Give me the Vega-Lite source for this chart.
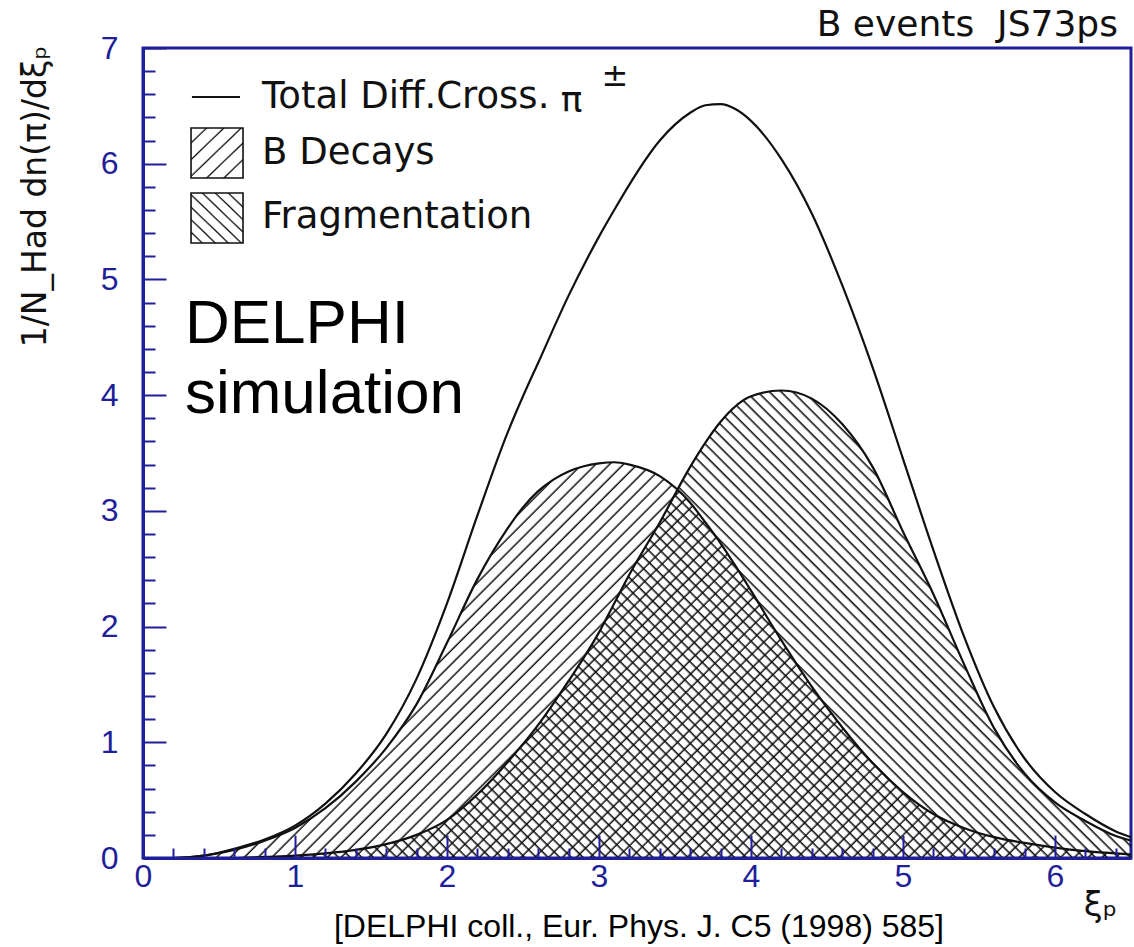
{
"$schema":"https://vega.github.io/schema/vega-lite/v6.json",
"width":988,"height":810,
"autosize":{"type":"none"},
"padding":{"left":143,"top":48,"right":3,"bottom":89},
"background":"white",
"config":{"view":{"stroke":"#1f1f99","strokeWidth":3},"axis":{"grid":false,"labelFlush":false,"labelOverlap":false,"labelBound":false}},
"datasets":{
"curves":[
{"xi":0,"s":"total","yv":0},{"xi":0.2,"s":"total","yv":0},{"xi":0.4,"s":"total","yv":0.02},{"xi":0.6,"s":"total","yv":0.08},{"xi":0.8,"s":"total","yv":0.16},{"xi":1,"s":"total","yv":0.28},{"xi":1.2,"s":"total","yv":0.47},{"xi":1.4,"s":"total","yv":0.73},{"xi":1.6,"s":"total","yv":1.07},{"xi":1.8,"s":"total","yv":1.55},{"xi":2,"s":"total","yv":2.2},{"xi":2.2,"s":"total","yv":2.96},{"xi":2.4,"s":"total","yv":3.68},{"xi":2.5,"s":"total","yv":3.99},{"xi":2.6,"s":"total","yv":4.28},{"xi":2.8,"s":"total","yv":4.86},{"xi":3,"s":"total","yv":5.37},{"xi":3.1,"s":"total","yv":5.6},{"xi":3.2,"s":"total","yv":5.82},{"xi":3.4,"s":"total","yv":6.2},{"xi":3.6,"s":"total","yv":6.44},{"xi":3.7,"s":"total","yv":6.505},{"xi":3.8,"s":"total","yv":6.515},{"xi":3.9,"s":"total","yv":6.47},{"xi":4,"s":"total","yv":6.37},{"xi":4.2,"s":"total","yv":6.04},{"xi":4.4,"s":"total","yv":5.57},{"xi":4.6,"s":"total","yv":4.95},{"xi":4.8,"s":"total","yv":4.24},{"xi":5,"s":"total","yv":3.45},{"xi":5.2,"s":"total","yv":2.66},{"xi":5.4,"s":"total","yv":1.92},{"xi":5.6,"s":"total","yv":1.3},{"xi":5.8,"s":"total","yv":0.86},{"xi":6,"s":"total","yv":0.57},{"xi":6.2,"s":"total","yv":0.38},{"xi":6.4,"s":"total","yv":0.23},{"xi":6.5,"s":"total","yv":0.18},
{"xi":0,"s":"b","yv":0},{"xi":0.2,"s":"b","yv":0},{"xi":0.4,"s":"b","yv":0.02},{"xi":0.6,"s":"b","yv":0.07},{"xi":0.8,"s":"b","yv":0.15},{"xi":1,"s":"b","yv":0.26},{"xi":1.2,"s":"b","yv":0.43},{"xi":1.4,"s":"b","yv":0.66},{"xi":1.6,"s":"b","yv":0.95},{"xi":1.8,"s":"b","yv":1.33},{"xi":2,"s":"b","yv":1.86},{"xi":2.2,"s":"b","yv":2.41},{"xi":2.4,"s":"b","yv":2.85},{"xi":2.5,"s":"b","yv":3.03},{"xi":2.6,"s":"b","yv":3.17},{"xi":2.7,"s":"b","yv":3.27},{"xi":2.8,"s":"b","yv":3.34},{"xi":2.9,"s":"b","yv":3.385},{"xi":3,"s":"b","yv":3.41},{"xi":3.1,"s":"b","yv":3.42},{"xi":3.2,"s":"b","yv":3.4},{"xi":3.4,"s":"b","yv":3.3},{"xi":3.6,"s":"b","yv":3.07},{"xi":3.7,"s":"b","yv":2.9},{"xi":3.8,"s":"b","yv":2.72},{"xi":3.9,"s":"b","yv":2.52},{"xi":4,"s":"b","yv":2.31},{"xi":4.2,"s":"b","yv":1.88},{"xi":4.4,"s":"b","yv":1.48},{"xi":4.6,"s":"b","yv":1.13},{"xi":4.8,"s":"b","yv":0.82},{"xi":5,"s":"b","yv":0.57},{"xi":5.2,"s":"b","yv":0.38},{"xi":5.4,"s":"b","yv":0.26},{"xi":5.6,"s":"b","yv":0.18},{"xi":5.8,"s":"b","yv":0.13},{"xi":6,"s":"b","yv":0.09},{"xi":6.2,"s":"b","yv":0.06},{"xi":6.4,"s":"b","yv":0.04},{"xi":6.5,"s":"b","yv":0.03},
{"xi":0,"s":"frag","yv":0},{"xi":0.2,"s":"frag","yv":0},{"xi":0.4,"s":"frag","yv":0},{"xi":0.6,"s":"frag","yv":0},{"xi":0.8,"s":"frag","yv":0.01},{"xi":1,"s":"frag","yv":0.02},{"xi":1.2,"s":"frag","yv":0.04},{"xi":1.4,"s":"frag","yv":0.07},{"xi":1.6,"s":"frag","yv":0.12},{"xi":1.8,"s":"frag","yv":0.2},{"xi":2,"s":"frag","yv":0.33},{"xi":2.2,"s":"frag","yv":0.55},{"xi":2.4,"s":"frag","yv":0.83},{"xi":2.6,"s":"frag","yv":1.15},{"xi":2.8,"s":"frag","yv":1.53},{"xi":3,"s":"frag","yv":1.95},{"xi":3.1,"s":"frag","yv":2.2},{"xi":3.2,"s":"frag","yv":2.45},{"xi":3.4,"s":"frag","yv":2.9},{"xi":3.6,"s":"frag","yv":3.38},{"xi":3.7,"s":"frag","yv":3.59},{"xi":3.8,"s":"frag","yv":3.77},{"xi":4,"s":"frag","yv":3.99},{"xi":4.2,"s":"frag","yv":4.04},{"xi":4.4,"s":"frag","yv":3.97},{"xi":4.6,"s":"frag","yv":3.75},{"xi":4.8,"s":"frag","yv":3.38},{"xi":5,"s":"frag","yv":2.82},{"xi":5.2,"s":"frag","yv":2.28},{"xi":5.4,"s":"frag","yv":1.68},{"xi":5.6,"s":"frag","yv":1.12},{"xi":5.8,"s":"frag","yv":0.73},{"xi":6,"s":"frag","yv":0.48},{"xi":6.2,"s":"frag","yv":0.32},{"xi":6.4,"s":"frag","yv":0.19},{"xi":6.5,"s":"frag","yv":0.15}
]
},
"encoding":{
"x":{"field":"xi","type":"quantitative","scale":{"domain":[0,6.5],"nice":false,"zero":false},
"axis":{"values":[0,0.2,0.4,0.6,0.8,1,1.2,1.4,1.6,1.8,2,2.2,2.4,2.6,2.8,3,3.2,3.4,3.6,3.8,4,4.2,4.4,4.6,4.8,5,5.2,5.4,5.6,5.8,6,6.2,6.4],
"labelExpr":"abs(datum.value-round(datum.value))<0.01 ? format(datum.value,'d') : ''",
"tickSize":-23,
"tickDash":{"condition":{"test":"abs(datum.value-round(datum.value))<0.01","value":[40,0]},"value":[10,100]},
"tickColor":"#1f1f99","tickWidth":2,"domainColor":"#1f1f99","domainWidth":3,"zindex":1,
"labelColor":"#1f1f99","labelFont":"Liberation Sans","labelFontSize":32,"labelPadding":26,"labelBaseline":"top",
"title":"ξₚ","titleX":957,"titleY":47,"titleFont":"DejaVu Sans","titleFontSize":34,"titleFontWeight":"normal","titleColor":"#111","titleAlign":"center","titleBaseline":"middle"}},
"y":{"field":"yv","type":"quantitative","scale":{"domain":[0,7],"nice":false,"zero":false},
"axis":{"values":[0,0.2,0.4,0.6,0.8,1,1.2,1.4,1.6,1.8,2,2.2,2.4,2.6,2.8,3,3.2,3.4,3.6,3.8,4,4.2,4.4,4.6,4.8,5,5.2,5.4,5.6,5.8,6,6.2,6.4,6.6,6.8,7],
"labelExpr":"abs(datum.value-round(datum.value))<0.01 ? format(datum.value,'d') : ''",
"tickSize":-23,
"tickDash":{"condition":{"test":"abs(datum.value-round(datum.value))<0.01","value":[40,0]},"value":[12,100]},
"tickColor":"#1f1f99","tickWidth":2,"domainColor":"#1f1f99","domainWidth":3,"zindex":1,
"labelColor":"#1f1f99","labelFont":"Liberation Sans","labelFontSize":32,"labelPadding":48,"labelAlign":"right","labelBaseline":"middle",
"title":"1/N_Had dn(π)/dξₚ","titleAngle":270,"titleX":-108,"titleY":-3,"titleAlign":"right","titleBaseline":"middle","titleFont":"DejaVu Sans","titleFontSize":33,"titleFontWeight":"normal","titleColor":"#111"}}
},
"layer":[
{"data":{"name":"curves"},"transform":[{"filter":"datum.s==='b'"}],
"mark":{"type":"area","interpolate":"monotone","opacity":1,"strokeWidth":0,
"fill":{"gradient":"linear","x1":0,"y1":0,"x2":1.2069,"y2":0.4834,"stops":[
{"offset":0.007,"color":"transparent"},{"offset":0.009,"color":"#111"},{"offset":0.01,"color":"transparent"},
{"offset":0.017,"color":"transparent"},{"offset":0.019,"color":"#111"},{"offset":0.02,"color":"transparent"},
{"offset":0.027,"color":"transparent"},{"offset":0.029,"color":"#111"},{"offset":0.03,"color":"transparent"},
{"offset":0.037,"color":"transparent"},{"offset":0.039,"color":"#111"},{"offset":0.04,"color":"transparent"},
{"offset":0.047,"color":"transparent"},{"offset":0.049,"color":"#111"},{"offset":0.05,"color":"transparent"},
{"offset":0.057,"color":"transparent"},{"offset":0.059,"color":"#111"},{"offset":0.06,"color":"transparent"},
{"offset":0.067,"color":"transparent"},{"offset":0.069,"color":"#111"},{"offset":0.07,"color":"transparent"},
{"offset":0.077,"color":"transparent"},{"offset":0.079,"color":"#111"},{"offset":0.08,"color":"transparent"},
{"offset":0.087,"color":"transparent"},{"offset":0.089,"color":"#111"},{"offset":0.09,"color":"transparent"},
{"offset":0.097,"color":"transparent"},{"offset":0.099,"color":"#111"},{"offset":0.1,"color":"transparent"},
{"offset":0.107,"color":"transparent"},{"offset":0.109,"color":"#111"},{"offset":0.11,"color":"transparent"},
{"offset":0.117,"color":"transparent"},{"offset":0.119,"color":"#111"},{"offset":0.12,"color":"transparent"},
{"offset":0.127,"color":"transparent"},{"offset":0.129,"color":"#111"},{"offset":0.13,"color":"transparent"},
{"offset":0.137,"color":"transparent"},{"offset":0.139,"color":"#111"},{"offset":0.14,"color":"transparent"},
{"offset":0.147,"color":"transparent"},{"offset":0.149,"color":"#111"},{"offset":0.15,"color":"transparent"},
{"offset":0.157,"color":"transparent"},{"offset":0.159,"color":"#111"},{"offset":0.16,"color":"transparent"},
{"offset":0.167,"color":"transparent"},{"offset":0.169,"color":"#111"},{"offset":0.17,"color":"transparent"},
{"offset":0.177,"color":"transparent"},{"offset":0.179,"color":"#111"},{"offset":0.18,"color":"transparent"},
{"offset":0.187,"color":"transparent"},{"offset":0.189,"color":"#111"},{"offset":0.19,"color":"transparent"},
{"offset":0.197,"color":"transparent"},{"offset":0.199,"color":"#111"},{"offset":0.2,"color":"transparent"},
{"offset":0.207,"color":"transparent"},{"offset":0.209,"color":"#111"},{"offset":0.21,"color":"transparent"},
{"offset":0.217,"color":"transparent"},{"offset":0.219,"color":"#111"},{"offset":0.22,"color":"transparent"},
{"offset":0.227,"color":"transparent"},{"offset":0.229,"color":"#111"},{"offset":0.23,"color":"transparent"},
{"offset":0.237,"color":"transparent"},{"offset":0.239,"color":"#111"},{"offset":0.24,"color":"transparent"},
{"offset":0.247,"color":"transparent"},{"offset":0.249,"color":"#111"},{"offset":0.25,"color":"transparent"},
{"offset":0.257,"color":"transparent"},{"offset":0.259,"color":"#111"},{"offset":0.26,"color":"transparent"},
{"offset":0.267,"color":"transparent"},{"offset":0.269,"color":"#111"},{"offset":0.27,"color":"transparent"},
{"offset":0.277,"color":"transparent"},{"offset":0.279,"color":"#111"},{"offset":0.28,"color":"transparent"},
{"offset":0.287,"color":"transparent"},{"offset":0.289,"color":"#111"},{"offset":0.29,"color":"transparent"},
{"offset":0.297,"color":"transparent"},{"offset":0.299,"color":"#111"},{"offset":0.3,"color":"transparent"},
{"offset":0.307,"color":"transparent"},{"offset":0.309,"color":"#111"},{"offset":0.31,"color":"transparent"},
{"offset":0.317,"color":"transparent"},{"offset":0.319,"color":"#111"},{"offset":0.32,"color":"transparent"},
{"offset":0.327,"color":"transparent"},{"offset":0.329,"color":"#111"},{"offset":0.33,"color":"transparent"},
{"offset":0.337,"color":"transparent"},{"offset":0.339,"color":"#111"},{"offset":0.34,"color":"transparent"},
{"offset":0.347,"color":"transparent"},{"offset":0.349,"color":"#111"},{"offset":0.35,"color":"transparent"},
{"offset":0.357,"color":"transparent"},{"offset":0.359,"color":"#111"},{"offset":0.36,"color":"transparent"},
{"offset":0.367,"color":"transparent"},{"offset":0.369,"color":"#111"},{"offset":0.37,"color":"transparent"},
{"offset":0.377,"color":"transparent"},{"offset":0.379,"color":"#111"},{"offset":0.38,"color":"transparent"},
{"offset":0.387,"color":"transparent"},{"offset":0.389,"color":"#111"},{"offset":0.39,"color":"transparent"},
{"offset":0.397,"color":"transparent"},{"offset":0.399,"color":"#111"},{"offset":0.4,"color":"transparent"},
{"offset":0.407,"color":"transparent"},{"offset":0.409,"color":"#111"},{"offset":0.41,"color":"transparent"},
{"offset":0.417,"color":"transparent"},{"offset":0.419,"color":"#111"},{"offset":0.42,"color":"transparent"},
{"offset":0.427,"color":"transparent"},{"offset":0.429,"color":"#111"},{"offset":0.43,"color":"transparent"},
{"offset":0.437,"color":"transparent"},{"offset":0.439,"color":"#111"},{"offset":0.44,"color":"transparent"},
{"offset":0.447,"color":"transparent"},{"offset":0.449,"color":"#111"},{"offset":0.45,"color":"transparent"},
{"offset":0.457,"color":"transparent"},{"offset":0.459,"color":"#111"},{"offset":0.46,"color":"transparent"},
{"offset":0.467,"color":"transparent"},{"offset":0.469,"color":"#111"},{"offset":0.47,"color":"transparent"},
{"offset":0.477,"color":"transparent"},{"offset":0.479,"color":"#111"},{"offset":0.48,"color":"transparent"},
{"offset":0.487,"color":"transparent"},{"offset":0.489,"color":"#111"},{"offset":0.49,"color":"transparent"},
{"offset":0.497,"color":"transparent"},{"offset":0.499,"color":"#111"},{"offset":0.5,"color":"transparent"},
{"offset":0.507,"color":"transparent"},{"offset":0.509,"color":"#111"},{"offset":0.51,"color":"transparent"},
{"offset":0.517,"color":"transparent"},{"offset":0.519,"color":"#111"},{"offset":0.52,"color":"transparent"},
{"offset":0.527,"color":"transparent"},{"offset":0.529,"color":"#111"},{"offset":0.53,"color":"transparent"},
{"offset":0.537,"color":"transparent"},{"offset":0.539,"color":"#111"},{"offset":0.54,"color":"transparent"},
{"offset":0.547,"color":"transparent"},{"offset":0.549,"color":"#111"},{"offset":0.55,"color":"transparent"},
{"offset":0.557,"color":"transparent"},{"offset":0.559,"color":"#111"},{"offset":0.56,"color":"transparent"},
{"offset":0.567,"color":"transparent"},{"offset":0.569,"color":"#111"},{"offset":0.57,"color":"transparent"},
{"offset":0.577,"color":"transparent"},{"offset":0.579,"color":"#111"},{"offset":0.58,"color":"transparent"},
{"offset":0.587,"color":"transparent"},{"offset":0.589,"color":"#111"},{"offset":0.59,"color":"transparent"},
{"offset":0.597,"color":"transparent"},{"offset":0.599,"color":"#111"},{"offset":0.6,"color":"transparent"},
{"offset":0.607,"color":"transparent"},{"offset":0.609,"color":"#111"},{"offset":0.61,"color":"transparent"},
{"offset":0.617,"color":"transparent"},{"offset":0.619,"color":"#111"},{"offset":0.62,"color":"transparent"},
{"offset":0.627,"color":"transparent"},{"offset":0.629,"color":"#111"},{"offset":0.63,"color":"transparent"},
{"offset":0.637,"color":"transparent"},{"offset":0.639,"color":"#111"},{"offset":0.64,"color":"transparent"},
{"offset":0.647,"color":"transparent"},{"offset":0.649,"color":"#111"},{"offset":0.65,"color":"transparent"},
{"offset":0.657,"color":"transparent"},{"offset":0.659,"color":"#111"},{"offset":0.66,"color":"transparent"},
{"offset":0.667,"color":"transparent"},{"offset":0.669,"color":"#111"},{"offset":0.67,"color":"transparent"},
{"offset":0.677,"color":"transparent"},{"offset":0.679,"color":"#111"},{"offset":0.68,"color":"transparent"},
{"offset":0.687,"color":"transparent"},{"offset":0.689,"color":"#111"},{"offset":0.69,"color":"transparent"},
{"offset":0.697,"color":"transparent"},{"offset":0.699,"color":"#111"},{"offset":0.7,"color":"transparent"},
{"offset":0.707,"color":"transparent"},{"offset":0.709,"color":"#111"},{"offset":0.71,"color":"transparent"},
{"offset":0.717,"color":"transparent"},{"offset":0.719,"color":"#111"},{"offset":0.72,"color":"transparent"},
{"offset":0.727,"color":"transparent"},{"offset":0.729,"color":"#111"},{"offset":0.73,"color":"transparent"},
{"offset":0.737,"color":"transparent"},{"offset":0.739,"color":"#111"},{"offset":0.74,"color":"transparent"},
{"offset":0.747,"color":"transparent"},{"offset":0.749,"color":"#111"},{"offset":0.75,"color":"transparent"},
{"offset":0.757,"color":"transparent"},{"offset":0.759,"color":"#111"},{"offset":0.76,"color":"transparent"},
{"offset":0.767,"color":"transparent"},{"offset":0.769,"color":"#111"},{"offset":0.77,"color":"transparent"},
{"offset":0.777,"color":"transparent"},{"offset":0.779,"color":"#111"},{"offset":0.78,"color":"transparent"},
{"offset":0.787,"color":"transparent"},{"offset":0.789,"color":"#111"},{"offset":0.79,"color":"transparent"},
{"offset":0.797,"color":"transparent"},{"offset":0.799,"color":"#111"},{"offset":0.8,"color":"transparent"},
{"offset":0.807,"color":"transparent"},{"offset":0.809,"color":"#111"},{"offset":0.81,"color":"transparent"},
{"offset":0.817,"color":"transparent"},{"offset":0.819,"color":"#111"},{"offset":0.82,"color":"transparent"},
{"offset":0.827,"color":"transparent"},{"offset":0.829,"color":"#111"},{"offset":0.83,"color":"transparent"},
{"offset":0.837,"color":"transparent"},{"offset":0.839,"color":"#111"},{"offset":0.84,"color":"transparent"},
{"offset":0.847,"color":"transparent"},{"offset":0.849,"color":"#111"},{"offset":0.85,"color":"transparent"},
{"offset":0.857,"color":"transparent"},{"offset":0.859,"color":"#111"},{"offset":0.86,"color":"transparent"},
{"offset":0.867,"color":"transparent"},{"offset":0.869,"color":"#111"},{"offset":0.87,"color":"transparent"},
{"offset":0.877,"color":"transparent"},{"offset":0.879,"color":"#111"},{"offset":0.88,"color":"transparent"},
{"offset":0.887,"color":"transparent"},{"offset":0.889,"color":"#111"},{"offset":0.89,"color":"transparent"},
{"offset":0.897,"color":"transparent"},{"offset":0.899,"color":"#111"},{"offset":0.9,"color":"transparent"},
{"offset":0.907,"color":"transparent"},{"offset":0.909,"color":"#111"},{"offset":0.91,"color":"transparent"},
{"offset":0.917,"color":"transparent"},{"offset":0.919,"color":"#111"},{"offset":0.92,"color":"transparent"},
{"offset":0.927,"color":"transparent"},{"offset":0.929,"color":"#111"},{"offset":0.93,"color":"transparent"},
{"offset":0.937,"color":"transparent"},{"offset":0.939,"color":"#111"},{"offset":0.94,"color":"transparent"},
{"offset":0.947,"color":"transparent"},{"offset":0.949,"color":"#111"},{"offset":0.95,"color":"transparent"},
{"offset":0.957,"color":"transparent"},{"offset":0.959,"color":"#111"},{"offset":0.96,"color":"transparent"},
{"offset":0.967,"color":"transparent"},{"offset":0.969,"color":"#111"},{"offset":0.97,"color":"transparent"},
{"offset":0.977,"color":"transparent"},{"offset":0.979,"color":"#111"},{"offset":0.98,"color":"transparent"},
{"offset":0.987,"color":"transparent"},{"offset":0.989,"color":"#111"},{"offset":0.99,"color":"transparent"},
{"offset":0.997,"color":"transparent"},{"offset":0.999,"color":"#111"},{"offset":1,"color":"transparent"}
]}}},
{"data":{"name":"curves"},"transform":[{"filter":"datum.s==='frag'"}],
"mark":{"type":"area","interpolate":"monotone","opacity":1,"strokeWidth":0,
"fill":{"gradient":"linear","x1":0,"y1":1,"x2":1.2037,"y2":0.4305,"stops":[
{"offset":0.005,"color":"transparent"},{"offset":0.007,"color":"#111"},{"offset":0.008,"color":"transparent"},
{"offset":0.013,"color":"transparent"},{"offset":0.015,"color":"#111"},{"offset":0.016,"color":"transparent"},
{"offset":0.021,"color":"transparent"},{"offset":0.023,"color":"#111"},{"offset":0.024,"color":"transparent"},
{"offset":0.029,"color":"transparent"},{"offset":0.031,"color":"#111"},{"offset":0.032,"color":"transparent"},
{"offset":0.037,"color":"transparent"},{"offset":0.039,"color":"#111"},{"offset":0.040,"color":"transparent"},
{"offset":0.045,"color":"transparent"},{"offset":0.047,"color":"#111"},{"offset":0.048,"color":"transparent"},
{"offset":0.053,"color":"transparent"},{"offset":0.055,"color":"#111"},{"offset":0.056,"color":"transparent"},
{"offset":0.061,"color":"transparent"},{"offset":0.063,"color":"#111"},{"offset":0.064,"color":"transparent"},
{"offset":0.069,"color":"transparent"},{"offset":0.071,"color":"#111"},{"offset":0.072,"color":"transparent"},
{"offset":0.077,"color":"transparent"},{"offset":0.079,"color":"#111"},{"offset":0.080,"color":"transparent"},
{"offset":0.085,"color":"transparent"},{"offset":0.087,"color":"#111"},{"offset":0.088,"color":"transparent"},
{"offset":0.093,"color":"transparent"},{"offset":0.095,"color":"#111"},{"offset":0.096,"color":"transparent"},
{"offset":0.101,"color":"transparent"},{"offset":0.103,"color":"#111"},{"offset":0.104,"color":"transparent"},
{"offset":0.109,"color":"transparent"},{"offset":0.111,"color":"#111"},{"offset":0.112,"color":"transparent"},
{"offset":0.117,"color":"transparent"},{"offset":0.119,"color":"#111"},{"offset":0.120,"color":"transparent"},
{"offset":0.125,"color":"transparent"},{"offset":0.127,"color":"#111"},{"offset":0.128,"color":"transparent"},
{"offset":0.133,"color":"transparent"},{"offset":0.135,"color":"#111"},{"offset":0.136,"color":"transparent"},
{"offset":0.141,"color":"transparent"},{"offset":0.143,"color":"#111"},{"offset":0.144,"color":"transparent"},
{"offset":0.149,"color":"transparent"},{"offset":0.151,"color":"#111"},{"offset":0.152,"color":"transparent"},
{"offset":0.157,"color":"transparent"},{"offset":0.159,"color":"#111"},{"offset":0.160,"color":"transparent"},
{"offset":0.165,"color":"transparent"},{"offset":0.167,"color":"#111"},{"offset":0.168,"color":"transparent"},
{"offset":0.173,"color":"transparent"},{"offset":0.175,"color":"#111"},{"offset":0.176,"color":"transparent"},
{"offset":0.181,"color":"transparent"},{"offset":0.183,"color":"#111"},{"offset":0.184,"color":"transparent"},
{"offset":0.189,"color":"transparent"},{"offset":0.191,"color":"#111"},{"offset":0.192,"color":"transparent"},
{"offset":0.197,"color":"transparent"},{"offset":0.199,"color":"#111"},{"offset":0.200,"color":"transparent"},
{"offset":0.205,"color":"transparent"},{"offset":0.207,"color":"#111"},{"offset":0.208,"color":"transparent"},
{"offset":0.213,"color":"transparent"},{"offset":0.215,"color":"#111"},{"offset":0.216,"color":"transparent"},
{"offset":0.221,"color":"transparent"},{"offset":0.223,"color":"#111"},{"offset":0.224,"color":"transparent"},
{"offset":0.229,"color":"transparent"},{"offset":0.231,"color":"#111"},{"offset":0.232,"color":"transparent"},
{"offset":0.237,"color":"transparent"},{"offset":0.239,"color":"#111"},{"offset":0.240,"color":"transparent"},
{"offset":0.245,"color":"transparent"},{"offset":0.247,"color":"#111"},{"offset":0.248,"color":"transparent"},
{"offset":0.253,"color":"transparent"},{"offset":0.255,"color":"#111"},{"offset":0.256,"color":"transparent"},
{"offset":0.261,"color":"transparent"},{"offset":0.263,"color":"#111"},{"offset":0.264,"color":"transparent"},
{"offset":0.269,"color":"transparent"},{"offset":0.271,"color":"#111"},{"offset":0.272,"color":"transparent"},
{"offset":0.277,"color":"transparent"},{"offset":0.279,"color":"#111"},{"offset":0.280,"color":"transparent"},
{"offset":0.285,"color":"transparent"},{"offset":0.287,"color":"#111"},{"offset":0.288,"color":"transparent"},
{"offset":0.293,"color":"transparent"},{"offset":0.295,"color":"#111"},{"offset":0.296,"color":"transparent"},
{"offset":0.301,"color":"transparent"},{"offset":0.303,"color":"#111"},{"offset":0.304,"color":"transparent"},
{"offset":0.309,"color":"transparent"},{"offset":0.311,"color":"#111"},{"offset":0.312,"color":"transparent"},
{"offset":0.317,"color":"transparent"},{"offset":0.319,"color":"#111"},{"offset":0.320,"color":"transparent"},
{"offset":0.325,"color":"transparent"},{"offset":0.327,"color":"#111"},{"offset":0.328,"color":"transparent"},
{"offset":0.333,"color":"transparent"},{"offset":0.335,"color":"#111"},{"offset":0.336,"color":"transparent"},
{"offset":0.341,"color":"transparent"},{"offset":0.343,"color":"#111"},{"offset":0.344,"color":"transparent"},
{"offset":0.349,"color":"transparent"},{"offset":0.351,"color":"#111"},{"offset":0.352,"color":"transparent"},
{"offset":0.357,"color":"transparent"},{"offset":0.359,"color":"#111"},{"offset":0.360,"color":"transparent"},
{"offset":0.365,"color":"transparent"},{"offset":0.367,"color":"#111"},{"offset":0.368,"color":"transparent"},
{"offset":0.373,"color":"transparent"},{"offset":0.375,"color":"#111"},{"offset":0.376,"color":"transparent"},
{"offset":0.381,"color":"transparent"},{"offset":0.383,"color":"#111"},{"offset":0.384,"color":"transparent"},
{"offset":0.389,"color":"transparent"},{"offset":0.391,"color":"#111"},{"offset":0.392,"color":"transparent"},
{"offset":0.397,"color":"transparent"},{"offset":0.399,"color":"#111"},{"offset":0.400,"color":"transparent"},
{"offset":0.405,"color":"transparent"},{"offset":0.407,"color":"#111"},{"offset":0.408,"color":"transparent"},
{"offset":0.413,"color":"transparent"},{"offset":0.415,"color":"#111"},{"offset":0.416,"color":"transparent"},
{"offset":0.421,"color":"transparent"},{"offset":0.423,"color":"#111"},{"offset":0.424,"color":"transparent"},
{"offset":0.429,"color":"transparent"},{"offset":0.431,"color":"#111"},{"offset":0.432,"color":"transparent"},
{"offset":0.437,"color":"transparent"},{"offset":0.439,"color":"#111"},{"offset":0.440,"color":"transparent"},
{"offset":0.445,"color":"transparent"},{"offset":0.447,"color":"#111"},{"offset":0.448,"color":"transparent"},
{"offset":0.453,"color":"transparent"},{"offset":0.455,"color":"#111"},{"offset":0.456,"color":"transparent"},
{"offset":0.461,"color":"transparent"},{"offset":0.463,"color":"#111"},{"offset":0.464,"color":"transparent"},
{"offset":0.469,"color":"transparent"},{"offset":0.471,"color":"#111"},{"offset":0.472,"color":"transparent"},
{"offset":0.477,"color":"transparent"},{"offset":0.479,"color":"#111"},{"offset":0.480,"color":"transparent"},
{"offset":0.485,"color":"transparent"},{"offset":0.487,"color":"#111"},{"offset":0.488,"color":"transparent"},
{"offset":0.493,"color":"transparent"},{"offset":0.495,"color":"#111"},{"offset":0.496,"color":"transparent"},
{"offset":0.501,"color":"transparent"},{"offset":0.503,"color":"#111"},{"offset":0.504,"color":"transparent"},
{"offset":0.509,"color":"transparent"},{"offset":0.511,"color":"#111"},{"offset":0.512,"color":"transparent"},
{"offset":0.517,"color":"transparent"},{"offset":0.519,"color":"#111"},{"offset":0.520,"color":"transparent"},
{"offset":0.525,"color":"transparent"},{"offset":0.527,"color":"#111"},{"offset":0.528,"color":"transparent"},
{"offset":0.533,"color":"transparent"},{"offset":0.535,"color":"#111"},{"offset":0.536,"color":"transparent"},
{"offset":0.541,"color":"transparent"},{"offset":0.543,"color":"#111"},{"offset":0.544,"color":"transparent"},
{"offset":0.549,"color":"transparent"},{"offset":0.551,"color":"#111"},{"offset":0.552,"color":"transparent"},
{"offset":0.557,"color":"transparent"},{"offset":0.559,"color":"#111"},{"offset":0.560,"color":"transparent"},
{"offset":0.565,"color":"transparent"},{"offset":0.567,"color":"#111"},{"offset":0.568,"color":"transparent"},
{"offset":0.573,"color":"transparent"},{"offset":0.575,"color":"#111"},{"offset":0.576,"color":"transparent"},
{"offset":0.581,"color":"transparent"},{"offset":0.583,"color":"#111"},{"offset":0.584,"color":"transparent"},
{"offset":0.589,"color":"transparent"},{"offset":0.591,"color":"#111"},{"offset":0.592,"color":"transparent"},
{"offset":0.597,"color":"transparent"},{"offset":0.599,"color":"#111"},{"offset":0.600,"color":"transparent"},
{"offset":0.605,"color":"transparent"},{"offset":0.607,"color":"#111"},{"offset":0.608,"color":"transparent"},
{"offset":0.613,"color":"transparent"},{"offset":0.615,"color":"#111"},{"offset":0.616,"color":"transparent"},
{"offset":0.621,"color":"transparent"},{"offset":0.623,"color":"#111"},{"offset":0.624,"color":"transparent"},
{"offset":0.629,"color":"transparent"},{"offset":0.631,"color":"#111"},{"offset":0.632,"color":"transparent"},
{"offset":0.637,"color":"transparent"},{"offset":0.639,"color":"#111"},{"offset":0.640,"color":"transparent"},
{"offset":0.645,"color":"transparent"},{"offset":0.647,"color":"#111"},{"offset":0.648,"color":"transparent"},
{"offset":0.653,"color":"transparent"},{"offset":0.655,"color":"#111"},{"offset":0.656,"color":"transparent"},
{"offset":0.661,"color":"transparent"},{"offset":0.663,"color":"#111"},{"offset":0.664,"color":"transparent"},
{"offset":0.669,"color":"transparent"},{"offset":0.671,"color":"#111"},{"offset":0.672,"color":"transparent"},
{"offset":0.677,"color":"transparent"},{"offset":0.679,"color":"#111"},{"offset":0.680,"color":"transparent"},
{"offset":0.685,"color":"transparent"},{"offset":0.687,"color":"#111"},{"offset":0.688,"color":"transparent"},
{"offset":0.693,"color":"transparent"},{"offset":0.695,"color":"#111"},{"offset":0.696,"color":"transparent"},
{"offset":0.701,"color":"transparent"},{"offset":0.703,"color":"#111"},{"offset":0.704,"color":"transparent"},
{"offset":0.709,"color":"transparent"},{"offset":0.711,"color":"#111"},{"offset":0.712,"color":"transparent"},
{"offset":0.717,"color":"transparent"},{"offset":0.719,"color":"#111"},{"offset":0.720,"color":"transparent"},
{"offset":0.725,"color":"transparent"},{"offset":0.727,"color":"#111"},{"offset":0.728,"color":"transparent"},
{"offset":0.733,"color":"transparent"},{"offset":0.735,"color":"#111"},{"offset":0.736,"color":"transparent"},
{"offset":0.741,"color":"transparent"},{"offset":0.743,"color":"#111"},{"offset":0.744,"color":"transparent"},
{"offset":0.749,"color":"transparent"},{"offset":0.751,"color":"#111"},{"offset":0.752,"color":"transparent"},
{"offset":0.757,"color":"transparent"},{"offset":0.759,"color":"#111"},{"offset":0.760,"color":"transparent"},
{"offset":0.765,"color":"transparent"},{"offset":0.767,"color":"#111"},{"offset":0.768,"color":"transparent"},
{"offset":0.773,"color":"transparent"},{"offset":0.775,"color":"#111"},{"offset":0.776,"color":"transparent"},
{"offset":0.781,"color":"transparent"},{"offset":0.783,"color":"#111"},{"offset":0.784,"color":"transparent"},
{"offset":0.789,"color":"transparent"},{"offset":0.791,"color":"#111"},{"offset":0.792,"color":"transparent"},
{"offset":0.797,"color":"transparent"},{"offset":0.799,"color":"#111"},{"offset":0.800,"color":"transparent"},
{"offset":0.805,"color":"transparent"},{"offset":0.807,"color":"#111"},{"offset":0.808,"color":"transparent"},
{"offset":0.813,"color":"transparent"},{"offset":0.815,"color":"#111"},{"offset":0.816,"color":"transparent"},
{"offset":0.821,"color":"transparent"},{"offset":0.823,"color":"#111"},{"offset":0.824,"color":"transparent"},
{"offset":0.829,"color":"transparent"},{"offset":0.831,"color":"#111"},{"offset":0.832,"color":"transparent"},
{"offset":0.837,"color":"transparent"},{"offset":0.839,"color":"#111"},{"offset":0.840,"color":"transparent"},
{"offset":0.845,"color":"transparent"},{"offset":0.847,"color":"#111"},{"offset":0.848,"color":"transparent"},
{"offset":0.853,"color":"transparent"},{"offset":0.855,"color":"#111"},{"offset":0.856,"color":"transparent"},
{"offset":0.861,"color":"transparent"},{"offset":0.863,"color":"#111"},{"offset":0.864,"color":"transparent"},
{"offset":0.869,"color":"transparent"},{"offset":0.871,"color":"#111"},{"offset":0.872,"color":"transparent"},
{"offset":0.877,"color":"transparent"},{"offset":0.879,"color":"#111"},{"offset":0.880,"color":"transparent"},
{"offset":0.885,"color":"transparent"},{"offset":0.887,"color":"#111"},{"offset":0.888,"color":"transparent"},
{"offset":0.893,"color":"transparent"},{"offset":0.895,"color":"#111"},{"offset":0.896,"color":"transparent"},
{"offset":0.901,"color":"transparent"},{"offset":0.903,"color":"#111"},{"offset":0.904,"color":"transparent"},
{"offset":0.909,"color":"transparent"},{"offset":0.911,"color":"#111"},{"offset":0.912,"color":"transparent"},
{"offset":0.917,"color":"transparent"},{"offset":0.919,"color":"#111"},{"offset":0.920,"color":"transparent"},
{"offset":0.925,"color":"transparent"},{"offset":0.927,"color":"#111"},{"offset":0.928,"color":"transparent"},
{"offset":0.933,"color":"transparent"},{"offset":0.935,"color":"#111"},{"offset":0.936,"color":"transparent"},
{"offset":0.941,"color":"transparent"},{"offset":0.943,"color":"#111"},{"offset":0.944,"color":"transparent"},
{"offset":0.949,"color":"transparent"},{"offset":0.951,"color":"#111"},{"offset":0.952,"color":"transparent"},
{"offset":0.957,"color":"transparent"},{"offset":0.959,"color":"#111"},{"offset":0.960,"color":"transparent"},
{"offset":0.965,"color":"transparent"},{"offset":0.967,"color":"#111"},{"offset":0.968,"color":"transparent"},
{"offset":0.973,"color":"transparent"},{"offset":0.975,"color":"#111"},{"offset":0.976,"color":"transparent"},
{"offset":0.981,"color":"transparent"},{"offset":0.983,"color":"#111"},{"offset":0.984,"color":"transparent"},
{"offset":0.989,"color":"transparent"},{"offset":0.991,"color":"#111"},{"offset":0.992,"color":"transparent"},
{"offset":0.997,"color":"transparent"},{"offset":0.999,"color":"#111"},{"offset":1,"color":"transparent"}
]}}},
{"data":{"name":"curves"},"mark":{"type":"line","interpolate":"monotone","color":"#111","strokeWidth":2.2},"encoding":{"detail":{"field":"s"}}},
{"data":{"values":[{"xi":0.316,"xi2":0.658,"yv":6.309,"yv2":5.877}]},
"mark":{"type":"rect","stroke":"#111","strokeWidth":1.6,
"fill":{"gradient":"linear","x1":0,"y1":0,"x2":1,"y2":1,"stops":[
{"offset":0.132,"color":"transparent"},{"offset":0.152,"color":"#111"},{"offset":0.167,"color":"transparent"},
{"offset":0.298,"color":"transparent"},{"offset":0.318,"color":"#111"},{"offset":0.333,"color":"transparent"},
{"offset":0.465,"color":"transparent"},{"offset":0.485,"color":"#111"},{"offset":0.5,"color":"transparent"},
{"offset":0.632,"color":"transparent"},{"offset":0.652,"color":"#111"},{"offset":0.667,"color":"transparent"},
{"offset":0.798,"color":"transparent"},{"offset":0.818,"color":"#111"},{"offset":0.833,"color":"transparent"}
]}},
"encoding":{"x2":{"field":"xi2"},"y2":{"field":"yv2"}}},
{"data":{"values":[{"xi":0.316,"xi2":0.658,"yv":5.747,"yv2":5.315}]},
"mark":{"type":"rect","stroke":"#111","strokeWidth":1.6,
"fill":{"gradient":"linear","x1":0,"y1":1,"x2":1,"y2":0,"stops":[
{"offset":0.09,"color":"transparent"},{"offset":0.11,"color":"#111"},{"offset":0.125,"color":"transparent"},
{"offset":0.215,"color":"transparent"},{"offset":0.235,"color":"#111"},{"offset":0.25,"color":"transparent"},
{"offset":0.34,"color":"transparent"},{"offset":0.36,"color":"#111"},{"offset":0.375,"color":"transparent"},
{"offset":0.465,"color":"transparent"},{"offset":0.485,"color":"#111"},{"offset":0.5,"color":"transparent"},
{"offset":0.59,"color":"transparent"},{"offset":0.61,"color":"#111"},{"offset":0.625,"color":"transparent"},
{"offset":0.715,"color":"transparent"},{"offset":0.735,"color":"#111"},{"offset":0.75,"color":"transparent"},
{"offset":0.84,"color":"transparent"},{"offset":0.86,"color":"#111"},{"offset":0.875,"color":"transparent"}
]}},
"encoding":{"x2":{"field":"xi2"},"y2":{"field":"yv2"}}},
{"data":{"values":[{"xi":0.322,"xi2":0.638,"yv":6.577}]},"mark":{"type":"rule","color":"#111","strokeWidth":2},"encoding":{"x2":{"field":"xi2"}}},
{"data":{"values":[{"xi":0.783,"yv":6.577,"label":"Total Diff.Cross."},{"xi":0.783,"yv":6.093,"label":"B Decays"},{"xi":0.783,"yv":5.54,"label":"Fragmentation"}]},
"mark":{"type":"text","font":"DejaVu Sans","fontSize":37,"align":"left","baseline":"middle","color":"#111"},"encoding":{"text":{"field":"label"}}},
{"data":{"values":[{"xi":2.82,"yv":6.542,"label":"π"}]},"mark":{"type":"text","font":"DejaVu Sans","fontSize":36,"align":"center","baseline":"middle","color":"#111"},"encoding":{"text":{"field":"label"}}},
{"data":{"values":[{"xi":3.105,"yv":6.758,"label":"±"}]},"mark":{"type":"text","font":"DejaVu Sans","fontSize":32,"align":"center","baseline":"middle","color":"#111"},"encoding":{"text":{"field":"label"}}},
{"data":{"values":[{"xi":6.414,"yv":7.104,"label":"B events\u00a0\u00a0JS73ps"}]},"mark":{"type":"text","font":"DejaVu Sans","fontSize":36,"align":"right","baseline":"alphabetic","color":"#111"},"encoding":{"text":{"field":"label"}}},
{"data":{"values":[{"xi":0.276,"yv":4.451,"label":"DELPHI"},{"xi":0.276,"yv":3.846,"label":"simulation"}]},"mark":{"type":"text","font":"Liberation Sans","fontSize":62,"align":"left","baseline":"alphabetic","color":"#000"},"encoding":{"text":{"field":"label"}}},
{"data":{"values":[{"xi":3.263,"yv":-0.596,"label":"[DELPHI coll., Eur. Phys. J. C5 (1998) 585]"}]},"mark":{"type":"text","font":"Liberation Sans","fontSize":32,"align":"center","baseline":"middle","color":"#000"},"encoding":{"text":{"field":"label"}}}
]
}
